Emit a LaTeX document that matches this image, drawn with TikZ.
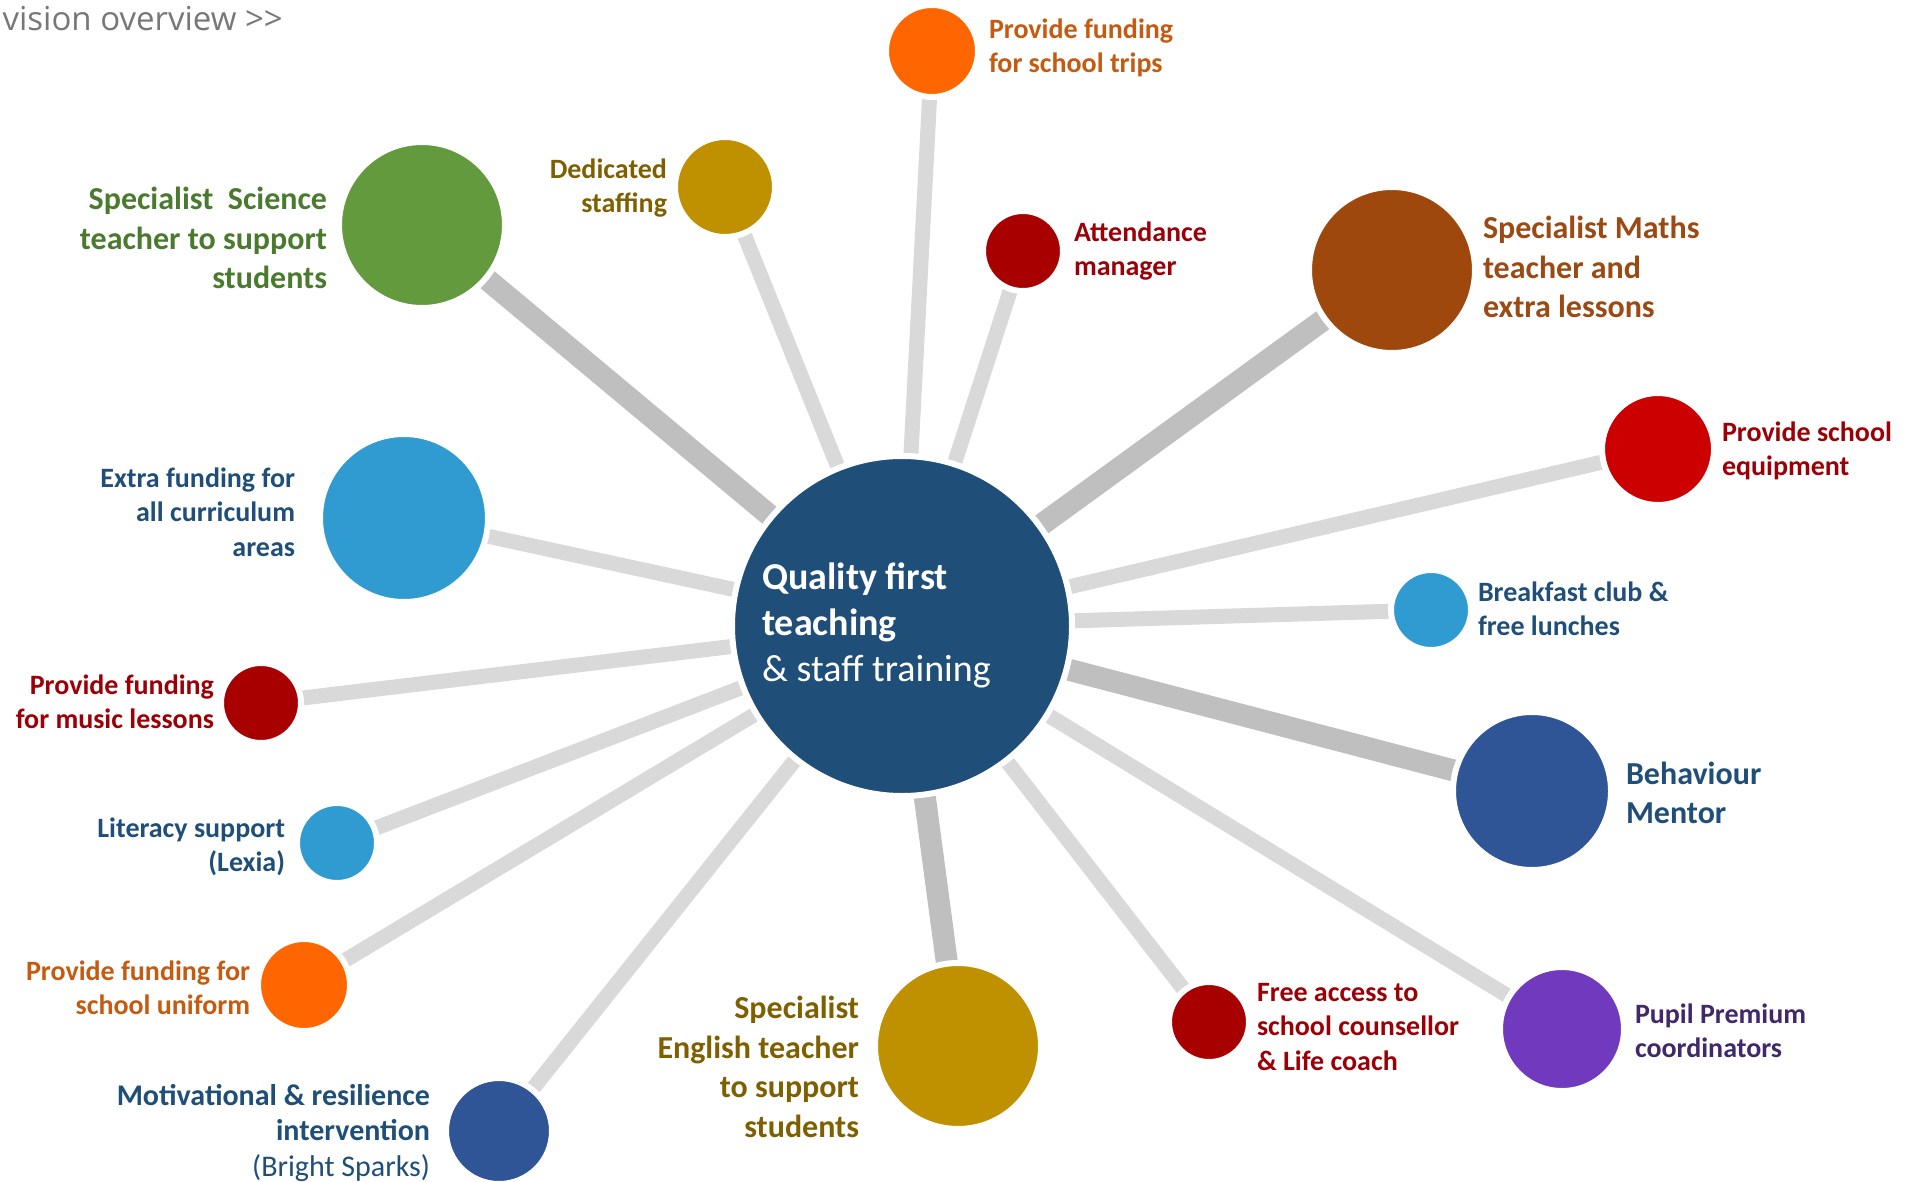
\documentclass[tikz,border=0pt]{standalone}
\usepackage{fontspec}
\setmainfont{Carlito}
\newfontfamily\opensans{Open Sans}
\usetikzlibrary{backgrounds}
\definecolor{cCentral}{HTML}{1F4E79}
\definecolor{cNavyTxt}{HTML}{1F4E79}
\definecolor{cGreen}{HTML}{629A3D}
\definecolor{cGreenTxt}{HTML}{4A7A2E}
\definecolor{cGold}{HTML}{BF9000}
\definecolor{cGoldTxt}{HTML}{7F6000}
\definecolor{cOrange}{HTML}{FF6600}
\definecolor{cOrangeTxt}{HTML}{C55A11}
\definecolor{cDarkRed}{HTML}{A80000}
\definecolor{cDarkRedTxt}{HTML}{9C0006}
\definecolor{cBrown}{HTML}{9E480E}
\definecolor{cBrownTxt}{HTML}{9A4A12}
\definecolor{cRed}{HTML}{CC0000}
\definecolor{cSky}{HTML}{309BD1}
\definecolor{cBlue}{HTML}{2F5597}
\definecolor{cPurple}{HTML}{7039BE}
\definecolor{cPurpleTxt}{HTML}{40286A}
\definecolor{cGrayTxt}{HTML}{777777}
\definecolor{lineLight}{HTML}{D9D9D9}
\definecolor{lineDark}{HTML}{BFBFBF}
\tikzset{
  bubble/.style={circle, draw=white, line width=6pt, inner sep=0pt, outer sep=0pt},
  conn/.style={line width=15pt, draw=lineLight},
  connthick/.style={line width=22pt, draw=lineDark},
  lbl/.style={font=\bfseries\fontsize{28}{34.5}\selectfont, inner sep=0pt, outer sep=0pt},
  lblbig/.style={font=\bfseries\fontsize{32}{39.5}\selectfont, inner sep=0pt, outer sep=0pt},
}
\begin{document}
\begin{tikzpicture}[x=1pt, y=-1pt]
\useasboundingbox (0,0) rectangle (1919,1182);
% title fragment
\node[font=\opensans\fontsize{33}{40}\selectfont, text=cGrayTxt, anchor=base east, inner sep=0pt] (title) at (283,31) {vision overview >>};
% central
\node[bubble, fill=cCentral, minimum size=340pt] (c) at (902,626) {};
\node[anchor=west, align=left, text=white, inner sep=0pt, font=\fontsize{38}{46}\selectfont] (ctext) at (762,625) {\textbf{Quality first}\\\textbf{teaching}\\\& staff training};
% bubbles
\node[bubble, fill=cOrange, minimum size=92pt] (trips) at (932,51) {};
\node[bubble, fill=cGold, minimum size=100pt] (staff) at (725,187) {};
\node[bubble, fill=cGreen, minimum size=166pt] (science) at (422,225) {};
\node[bubble, fill=cDarkRed, minimum size=80pt] (attend) at (1023,251) {};
\node[bubble, fill=cBrown, minimum size=166pt] (maths) at (1392,270) {};
\node[bubble, fill=cRed, minimum size=112pt] (equip) at (1658,449) {};
\node[bubble, fill=cSky, minimum size=80pt] (breakfast) at (1431,610) {};
\node[bubble, fill=cBlue, minimum size=158pt] (behaviour) at (1532,791) {};
\node[bubble, fill=cPurple, minimum size=124pt] (pupil) at (1562,1029) {};
\node[bubble, fill=cDarkRed, minimum size=80pt] (free) at (1209,1022) {};
\node[bubble, fill=cGold, minimum size=166pt] (english) at (958,1046) {};
\node[bubble, fill=cBlue, minimum size=106pt] (motiv) at (499,1131) {};
\node[bubble, fill=cOrange, minimum size=92pt] (uniform) at (304,985) {};
\node[bubble, fill=cSky, minimum size=80pt] (literacy) at (337,843) {};
\node[bubble, fill=cDarkRed, minimum size=80pt] (music) at (261,703) {};
\node[bubble, fill=cSky, minimum size=168pt] (extra) at (404,518) {};
% connectors
\begin{scope}[on background layer]
\draw[conn] (c.center) -- (trips.center);
\draw[conn] (c.center) -- (staff.center);
\draw[connthick] (c.center) -- (science.center);
\draw[conn] (c.center) -- (attend.center);
\draw[connthick] (c.center) -- (maths.center);
\draw[conn] (c.center) -- (equip.center);
\draw[conn] (c.center) -- (breakfast.center);
\draw[connthick] (c.center) -- (behaviour.center);
\draw[conn] (c.center) -- (pupil.center);
\draw[conn] (c.center) -- (free.center);
\draw[connthick] (c.center) -- (english.center);
\draw[conn] (c.center) -- (motiv.center);
\draw[conn] (c.center) -- (uniform.center);
\draw[conn] (c.center) -- (literacy.center);
\draw[conn] (c.center) -- (music.center);
\draw[conn] (c.center) -- (extra.center);
\end{scope}
% labels
\node[lbl, text=cOrangeTxt, anchor=west, align=left] (tripsL) at (989,48) {Provide funding\\for school trips};
\node[lbl, text=cGoldTxt, anchor=east, align=right] (staffL) at (667,188) {Dedicated\\staffing};
\node[lblbig, text=cGreenTxt, anchor=east, align=right] (scienceL) at (327,238) {Specialist\ \ Science\\teacher to support\\students};
\node[lbl, text=cDarkRedTxt, anchor=west, align=left] (attendL) at (1074,251) {Attendance\\manager};
\node[lblbig, text=cBrownTxt, anchor=west, align=left] (mathsL) at (1483,267) {Specialist Maths\\teacher and\\extra lessons};
\node[lbl, text=cDarkRedTxt, anchor=west, align=left] (equipL) at (1722,451) {Provide school\\equipment};
\node[lbl, text=cNavyTxt, anchor=west, align=left] (breakfastL) at (1478,609) {Breakfast club \&\\free lunches};
\node[lblbig, text=cNavyTxt, anchor=west, align=left] (behaviourL) at (1626,793) {Behaviour\\Mentor};
\node[lbl, text=cPurpleTxt, anchor=west, align=left] (pupilL) at (1635,1031) {Pupil Premium\\coordinators};
\node[lbl, text=cDarkRedTxt, anchor=west, align=left] (freeL) at (1257,1027) {Free access to\\school counsellor\\\& Life coach};
\node[lblbig, text=cGoldTxt, anchor=east, align=right] (englishL) at (859,1067) {Specialist\\English teacher\\to support\\students};
\node[lbl, font=\bfseries\fontsize{30}{35.5}\selectfont, text=cNavyTxt, anchor=east, align=right] (motivL) at (430,1133) {Motivational \& resilience\\intervention\\{\mdseries (Bright Sparks)}};
\node[lbl, text=cOrangeTxt, anchor=east, align=right] (uniformL) at (250,988) {Provide funding for\\school uniform};
\node[lbl, text=cNavyTxt, anchor=east, align=right] (literacyL) at (285,847) {Literacy support\\(Lexia)};
\node[lbl, text=cDarkRedTxt, anchor=east, align=right] (musicL) at (214,702) {Provide funding\\for music lessons};
\node[lbl, text=cNavyTxt, anchor=east, align=right] (extraL) at (295,512) {Extra funding for\\all curriculum\\areas};
\end{tikzpicture}
\end{document}
